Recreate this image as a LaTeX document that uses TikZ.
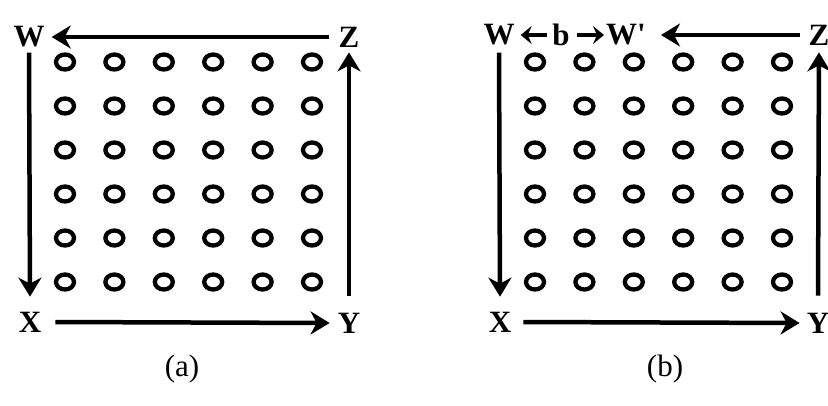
\documentclass[tikz,border=0pt]{standalone}
\usepackage{fontspec}
\setmainfont{Liberation Serif}
\usetikzlibrary{arrows.meta}
\begin{document}
\begin{tikzpicture}[x=1pt,y=-1pt,
  lbl/.style={font=\fontsize{31}{34}\selectfont\bfseries, inner sep=0pt},
  captext/.style={font=\fontsize{31}{34}\selectfont, inner sep=0pt},
  arr/.style={line width=4.5pt, -{Stealth[length=19pt,width=23pt,inset=6pt]}},
  sarr/.style={line width=4pt, -{Stealth[length=11pt,width=18pt,inset=4pt]}},
  hole/.style={line width=4.3pt},
]
\useasboundingbox (0,0) rectangle (828,405);

% holes
\foreach \i in {0,...,5}{
  \foreach \j in {0,...,5}{
    \draw[hole] (65+49.4*\i, 62+44*\j) ellipse [x radius=9pt, y radius=7.5pt];
    \draw[hole] (535+49.4*\i, 62+44*\j) ellipse [x radius=9pt, y radius=7.5pt];
  }
}

% panel (a)
\node[lbl] (Wa) at (29,37) {W};
\node[lbl] (Za) at (349,37) {Z};
\node[lbl] (Xa) at (30,322) {X};
\node[lbl] (Ya) at (349,323) {Y};
\draw[arr] ([xshift=-9pt]Za.west) -- ([xshift=7pt]Wa.east);
\draw[arr] ([yshift=-5pt]Wa.south) -- ([yshift=15pt]Xa.north);
\draw[arr] ([xshift=14pt]Xa.east) -- ([xshift=-8pt]Ya.west);
\draw[arr] ([yshift=17pt]Ya.north) -- ([yshift=-5pt]Za.south);
\node[captext] (ca) at (182,369) {(a)};

% panel (b)
\node[lbl] (Wb) at (499,35) {W};
\node[lbl] (bb) at (561,35) {b};
\node[lbl] (Wp) at (626,35) {W\textquotesingle};
\node[lbl] (Zb) at (819,35) {Z};
\node[lbl] (Xb) at (500,322) {X};
\node[lbl] (Yb) at (818,323) {Y};
\draw[arr] ([xshift=-8pt]Zb.west) -- ([xshift=15pt]Wp.east);
\draw[sarr] ([xshift=-5pt]bb.west) -- ([xshift=6pt]Wb.east);
\draw[sarr] ([xshift=7pt]bb.east) -- ([xshift=-2pt]Wp.west);
\draw[arr] ([yshift=-7pt]Wb.south) -- ([yshift=15pt]Xb.north);
\draw[arr] ([xshift=12pt]Xb.east) -- ([xshift=-7pt]Yb.west);
\draw[arr] ([yshift=17pt]Yb.north) -- ([yshift=-7pt]Zb.south);
\node[captext] (cb) at (665,369) {(b)};
\end{tikzpicture}
\end{document}
